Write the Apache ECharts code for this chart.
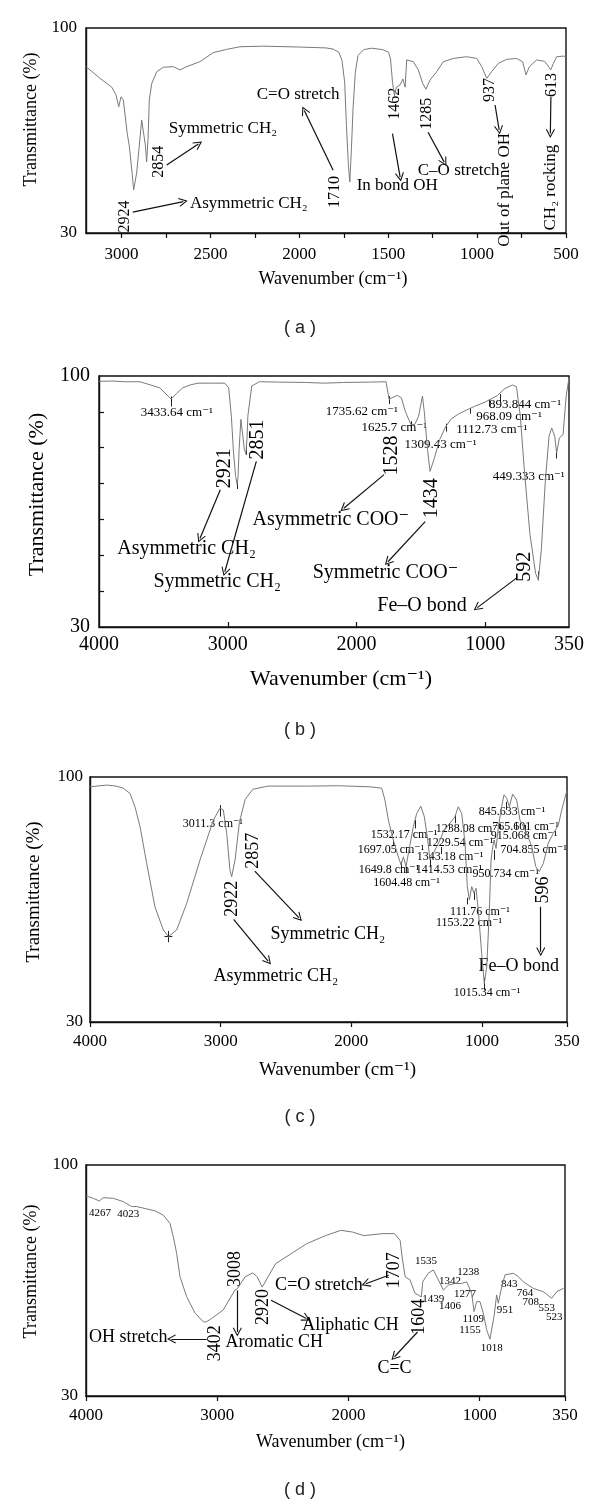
<!DOCTYPE html>
<html>
<head>
<meta charset="utf-8">
<script src="https://cdn.jsdelivr.net/npm/echarts@6/dist/echarts.min.js"></script>
<style>
html,body{margin:0;padding:0;background:#fff;}
#c{width:600px;height:1508px;}
</style>
</head>
<body>
<div id="c"></div>
<script>
// ---------- Panel (a) ----------
const aWave = [3200,3121,3055,3031,3016,3003,2990,2968,2956,2940,2932,2915,2900,2887,2878,2866,2859,2851,2844,2830,2802,2765,2709,2671,2634,2559,2484,2409,2334,2200,2000,1850,1810,1778,1760,1745,1735,1724,1716,1707,1698,1685,1670,1638,1595,1530,1498,1487,1476,1465,1454,1433,1418,1405,1396,1359,1331,1306,1288,1265,1227,1190,1134,1059,1002,974,946,918,881,834,778,744,725,706,665,620,600,586,571,552,515,500];
const aTrans = [86.8,82.8,79.8,77.1,73.1,76.5,75.4,64,59.5,50,44.7,50.5,60,68.6,68,60,54.3,62,75.4,81.1,85.1,86.6,86.8,85.7,86.8,88.5,91.6,92.7,93.6,93.8,93.5,93.2,92.8,91.7,88.9,81.5,66.7,53.1,47.4,58.8,72.4,84.9,90.6,92.6,93.1,92.6,91.7,89.4,81.5,76.9,79.8,80.6,82.6,79.8,89.1,88.5,85.7,81.1,79.1,82.2,85.1,88.5,89.6,90.2,89.6,86.8,82.8,85.1,87.9,89.3,89.6,88.5,84,86.8,89.1,88.6,87,85.7,87.9,90.2,90.4,90.2];
const aXTicks = [500,750,1000,1250,1500,1750,2000,2250,2500,2750,3000];
const aXLabels = [500,1000,1500,2000,2500,3000];
const aNotes = [
  [2981,35.6,'2924','v'],
  [2284,40,'Asymmetric CH₂','h'],
  [2788,54.3,'2854','v'],
  [2430,65.6,'Symmetric CH₂','h'],
  [2007,77.2,'C=O stretch','h'],
  [1799,44,'1710','v'],
  [1449,46.2,'In bond OH','h'],
  [1465,74.1,'1462','v'],
  [1282,70.7,'1285','v'],
  [1104,51.4,'C–O stretch','h'],
  [927,78.8,'937','v'],
  [843,44.7,'Out of plane OH','vw'],
  [580,80.5,'613','v'],
  [588,45.5,'CH₂ rocking','vw']
];
const aArrows = [
  [2937,37.1,2653,40.7],
  [2746,53.2,2568,60.4],
  [1810,51.4,1972,71.8],
  [1476,63.9,1433,49.1],
  [1276,64.4,1185,54.2],
  [899,73.7,876,65.2],
  [585,76.5,588,64]
];

// ---------- Panel (b) ----------
const bWave = [4000,3900,3800,3682,3600,3529,3480,3440,3400,3350,3293,3231,3100,3023,2993,2972,2957,2939,2927,2920,2912,2898,2883,2871,2859,2850,2844,2814,2755,2600,2397,2248,2100,1900,1771,1756,1747,1727,1682,1652,1622,1578,1548,1518,1488,1473,1449,1429,1399,1354,1309,1265,1205,1146,1086,997,908,848,789,758,728,699,654,609,588,565,535,505,484,461,446,425,396,372,350];
const bTrans = [98.5,98.6,98.4,98.4,97.5,96.7,95,93.6,95,96.7,97.5,98,98,98,96.7,88.8,79.5,72,69.7,72,79.5,87.9,88.3,79.5,78.2,83,88.8,97.2,98.4,98.3,98.2,98,98.2,98.3,98.4,98,93.5,93.9,94.6,93.9,90.2,86.5,86.5,88.8,94.4,89.7,79.5,73.4,76.7,82.3,85.8,88,89.5,90.5,91.5,92.8,94.5,96.5,97.5,97,88.8,74.8,56.1,44.9,43.1,51.5,70.1,83.2,85.5,83.2,78.5,82.7,83.7,94.4,99.5];
const bXLabels = [4000,3000,2000,1000,350];
const bXTicks = [3000,2000,1000];
const bYTicks = [40,50,60,70,80,90];
const bNotes = [
  [3395,89.7,'3433.64 cm⁻¹','s'],
  [3023,74.3,'2921','v'],
  [3320,51.7,'Asymmetric CH₂','h'],
  [2770,82.3,'2851','v'],
  [3082,42.6,'Symmetric CH₂','h'],
  [1958,90.2,'1735.62 cm⁻¹','s'],
  [1706,85.5,'1625.7 cm⁻¹','s'],
  [1727,77.8,'1528','v'],
  [2200,59.9,'Asymmetric COO⁻','h'],
  [1347,80.8,'1309.43 cm⁻¹','s'],
  [1416,65.9,'1434','v'],
  [1775,45.1,'Symmetric COO⁻','h'],
  [950,85,'1112.73 cm⁻¹','s'],
  [816,88.8,'968.09 cm⁻¹','s'],
  [692,91.9,'893.844 cm⁻¹','s'],
  [663,71.9,'449.333 cm⁻¹','s'],
  [692,46.8,'592','v'],
  [1491,35.8,'Fe–O bond','h']
];
const bArrows = [
  [3058,68.3,3216,54.7],
  [2778,76.2,3023,45.4],
  [1786,72.5,2099,63.1],
  [1467,59.4,1756,48.2],
  [756,43.7,1062,35.4]
];
const bMarks = [
  [3440,94.3,91.5],[2927,71,68.5],[2859,80.9,78],[1747,94.4,92.2],[1578,87.4,85],
  [1300,86.7,84.5],[1114,91,89.5],[969,93.5,91.5],[886,95,93],[446,79.4,77],[588,45.5,43]
];

// ---------- Panel (c) ----------
const cWave = [4000,3872,3800,3745,3694,3656,3617,3566,3503,3439,3400,3337,3260,3158,3056,3005,2980,2954,2929,2916,2890,2857,2813,2754,2637,2343,2100,1857,1768,1743,1717,1679,1641,1620,1602,1582,1559,1526,1500,1469,1442,1419,1398,1373,1347,1322,1296,1245,1207,1182,1156,1130,1113,1097,1079,1062,1046,1029,1003,983,964,944,931,918,908,893,875,850,832,811,791,766,735,710,684,658,620,589,562,531,493,455,416,390,357,350];
const cTrans = [97.2,97.7,97.4,96.8,95.3,91.5,85.8,75.3,62.9,56.3,54.4,56.3,63.9,76.3,87.7,91.1,90.6,83.9,73.4,71.5,76.3,87,93.6,96.5,97.4,97.4,97.5,97.2,96.8,93.4,87.7,82,77.2,74.9,77.2,74.4,79.1,85.8,89.6,91.7,88.7,82.9,76.3,78.2,80.1,82,84.4,86.8,88.7,91.5,89.6,81.1,68.7,64.9,68.7,66.8,68.2,62,49.6,41,45.8,62,76.3,80.1,82,79.6,85.8,91.5,94.9,93.9,91.5,95.1,93.4,87.7,85.8,83.9,80.1,74.4,73,75.3,81.1,83.9,86.3,90.6,95.3,96];
const cXLabels = [4000,3000,2000,1000,350];
const cNotes = [
  [3060,86.6,'3011.3 cm⁻¹','s'],
  [2910,65.2,'2922','v'],
  [2578,43.1,'Asymmetric CH₂','h'],
  [2754,78.9,'2857','v'],
  [2179,55.2,'Symmetric CH₂','h'],
  [720,45.8,'Fe–O bond','h'],
  [531,67.7,'596','v'],
  [771,90.1,'845.633 cm⁻¹','s'],
  [668,85.8,'765.601 cm⁻¹','s'],
  [1100,85.3,'1238.08 cm⁻¹','s'],
  [679,83.1,'915.068 cm⁻¹','s'],
  [1597,83.4,'1532.17 cm⁻¹','s'],
  [1169,81.2,'1229.54 cm⁻¹','s'],
  [1697,79.1,'1697.05 cm⁻¹','s'],
  [605,79.3,'704.855 cm⁻¹','s'],
  [1245,77.2,'1343.18 cm⁻¹','s'],
  [1712,73.6,'1649.8 cm⁻¹','s'],
  [1253,73.6,'1414.53 cm⁻¹','s'],
  [819,72.2,'950.734 cm⁻¹','s'],
  [1577,69.8,'1604.48 cm⁻¹','s'],
  [1016,61.5,'111.76 cm⁻¹','s'],
  [1100,58.2,'1153.22 cm⁻¹','s'],
  [962,38.2,'1015.34 cm⁻¹','s']
];
const cArrows = [
  [2901,59.3,2637,47.4],
  [2739,73.1,2402,59.8],
  [551,62.9,551,50.1]
];
const cMarks = [
  [3400,56,52.8],[3005,92,88.7],[1679,82,80.6],[1620,75.8,74.2],[1582,74.4,72.5],[1513,87.7,85.3],
  [1398,76.8,74.4],[1316,80,78],[1207,89.1,86.8],[1253,86.8,84.9],[1113,65.5,63.6],[1062,67.2,64.9],
  [983,42.6,39.1],[908,79.1,76.3],[817,92.9,90.6],[735,87.2,84.9],[671,86.3,84.4]
];
const cCross = [[3430,54.4,3370,54.4]];

// ---------- Panel (d) ----------
const dWave = [4000,3982,3944,3898,3868,3792,3716,3652,3614,3537,3474,3411,3360,3335,3309,3284,3233,3169,3106,3086,3042,2954,2865,2847,2788,2730,2695,2657,2648,2613,2555,2438,2321,2175,2058,1971,1883,1737,1649,1606,1591,1568,1531,1493,1468,1445,1434,1392,1353,1315,1277,1239,1188,1137,1099,1061,1043,1023,998,973,947,922,891,871,858,832,807,744,706,668,591,515,451,413,363,350];
const dTrans = [90.6,90.4,89.9,89.1,90.1,89.9,88.9,87.4,87.4,86.7,86.1,84.8,82.3,78.3,73.2,66.2,60.1,55.1,52.5,52.4,53.5,56.1,62.1,62.5,66.1,67.3,66.1,63,62.5,66.1,70.1,73.1,76.1,78.6,80.2,79.7,78.6,79.2,79.2,77.1,72.1,66.1,65.2,61.1,60.6,60,64.6,67.2,68.2,65.2,62.1,63.6,64.1,64.1,64.6,61.1,55.6,58.6,58.6,55.1,50.1,47.2,54.1,60.6,58.1,63.1,66.7,67.2,66.2,64.6,62.6,61.6,59.6,61.6,62.6,62.5];
const dXLabels = [4000,3000,2000,1000,350];
const dNotes = [
  [3893,85.5,'4267','s'],
  [3679,85.2,'4023','s'],
  [2865,68.5,'3008','v'],
  [3678,47.7,'OH stretch','h'],
  [3017,46,'3402','v'],
  [2566,46.4,'Aromatic CH','h'],
  [2648,57,'2920','v'],
  [1985,51.5,'Aliphatic CH','h'],
  [2225,63.7,'C=O stretch','h'],
  [1649,68.1,'1707','v'],
  [1460,54,'1604','v'],
  [1649,38.4,'C=C','h'],
  [1409,70.9,'1535','s'],[1087,67.4,'1238','s'],[1226,64.9,'1342','s'],[1353,59.3,'1439','s'],
  [1112,60.8,'1277','s'],[1226,57.1,'1406','s'],[774,63.8,'843','s'],[655,61.1,'764','s'],
  [611,58.5,'708','s'],[489,56.6,'553','s'],[431,53.8,'523','s'],[807,55.9,'951','s'],
  [1049,53.2,'1109','s'],[1074,50,'1155','s'],[909,44.6,'1018','s']
];
const dArrows = [
  [2847,62,2847,49.4],
  [3080,47.3,3349,47.3],
  [2590,59,2321,53.5],
  [1693,66.6,1868,64],
  [1474,49.4,1649,41.9]
];

const yLabels = [30,100];
const captions = ['( a )','( b )','( c )','( d )'];
const xName = 'Wavenumber (cm⁻¹)';
const yName = 'Transmittance (%)';

// ---------- layout / style ----------
const SERIF = '"Liberation Serif","DejaVu Serif",serif';
const panels = [
  {grid:{left:86,top:28,width:480,height:205}, min:500, max:3200, wave:aWave, trans:aTrans, notes:aNotes, arrows:aArrows, marks:[],
   xLabels:aXLabels, xTicks:aXTicks, xTickIn:false, yTicks:[], fs:{tick:17,xname:18,yname:18,v:16,vw:17,h:17,s:12},
   xNameGap:37, yNameGap:46, xNamePad:[0,0,0,14], yNamePad:[0,0,0,22], xLabelMargin:13, yLabelMargin:9, cap:328},
  {grid:{left:99,top:376,width:470,height:251}, min:350, max:4000, wave:bWave, trans:bTrans, notes:bNotes, arrows:bArrows, marks:bMarks,
   xLabels:bXLabels, xTicks:bXTicks, xTickIn:true, yTicks:bYTicks, fs:{tick:20,xname:22,yname:22,v:20,vw:20,h:20,s:13},
   xNameGap:41, yNameGap:51, xNamePad:[0,0,0,14], yNamePad:[0,0,0,14], xLabelMargin:8, yLabelMargin:9, cap:730},
  {grid:{left:90,top:777,width:477,height:245}, min:350, max:4000, wave:cWave, trans:cTrans, notes:cNotes, arrows:cArrows, marks:cMarks,
   xLabels:cXLabels, xTicks:cXLabels, xTickIn:false, yTicks:[], fs:{tick:17,xname:19,yname:19,v:18,vw:18,h:18,s:12},
   xNameGap:39, yNameGap:46, xNamePad:[0,0,0,18], yNamePad:[0,0,0,15], xLabelMargin:11, yLabelMargin:7, cap:1117},
  {grid:{left:86,top:1165,width:479,height:231}, min:350, max:4000, wave:dWave, trans:dTrans, notes:dNotes, arrows:dArrows, marks:[],
   xLabels:dXLabels, xTicks:dXLabels, xTickIn:false, yTicks:[], fs:{tick:17,xname:18,yname:18,v:18,vw:18,h:18,s:11},
   xNameGap:37, yNameGap:46, xNamePad:[0,0,0,10], yNamePad:[0,0,0,18], xLabelMargin:11, yLabelMargin:8, cap:1490}
];
const ARROW = 'path://M10,0 L20,15 L18,16 L10,4 L2,16 L0,15 Z';
const plain = v => String(v);

const grids=[], xAxes=[], yAxes=[], series=[], graphics=[];
panels.forEach((p,i)=>{
  grids.push(Object.assign({show:true, borderColor:'#111', borderWidth:1.4, backgroundColor:'transparent'}, p.grid));
  xAxes.push({type:'value', gridIndex:i, inverse:true, min:p.min, max:p.max,
    name:xName, nameLocation:'middle', nameGap:p.xNameGap,
    nameTextStyle:{fontFamily:SERIF, fontSize:p.fs.xname, color:'#000', padding:p.xNamePad},
    axisLine:{show:true, lineStyle:{color:'#111', width:1.4}},
    axisTick:{show:true, customValues:p.xTicks, inside:p.xTickIn, length:5, lineStyle:{color:'#111', width:1.2}},
    axisLabel:{show:true, customValues:p.xLabels, formatter:plain, margin:p.xLabelMargin, fontFamily:SERIF, fontSize:p.fs.tick, color:'#000'},
    splitLine:{show:false}});
  yAxes.push({type:'value', gridIndex:i, min:30, max:100,
    name:yName, nameLocation:'middle', nameGap:p.yNameGap, nameRotate:90,
    nameTextStyle:{fontFamily:SERIF, fontSize:p.fs.yname, color:'#000', padding:p.yNamePad},
    axisLine:{show:true, lineStyle:{color:'#111', width:1.4}},
    axisTick:{show:p.yTicks.length>0, customValues:p.yTicks, inside:true, length:5, lineStyle:{color:'#111', width:1.2}},
    axisLabel:{show:true, customValues:yLabels, formatter:plain, margin:p.yLabelMargin, fontFamily:SERIF, fontSize:p.fs.tick, color:'#000'},
    splitLine:{show:false}});
  series.push({type:'line', xAxisIndex:i, yAxisIndex:i, data:p.wave.map((w,k)=>[w,p.trans[k]]),
    showSymbol:false, symbol:'none', silent:true, animation:false,
    lineStyle:{color:'#7a7a7a', width:1}});
  series.push({type:'lines', coordinateSystem:'cartesian2d', xAxisIndex:i, yAxisIndex:i, silent:true, animation:false,
    symbol:['none', ARROW], symbolSize:[8,9],
    lineStyle:{color:'#111', width:1.2, opacity:1},
    data:p.arrows.map(a=>({coords:[[a[0],a[1]],[a[2],a[3]]]}))});
  const markLines = p.marks.map(m=>({coords:[[m[0],m[1]],[m[0],m[2]]]}));
  if(i===2) cCross.forEach(c=>markLines.push({coords:[[c[0],c[1]],[c[2],c[3]]]}));
  if(markLines.length){
    series.push({type:'lines', coordinateSystem:'cartesian2d', xAxisIndex:i, yAxisIndex:i, silent:true, animation:false,
      symbol:['none','none'], lineStyle:{color:'#222', width:1, opacity:1}, data:markLines});
  }
  series.push({type:'scatter', xAxisIndex:i, yAxisIndex:i, silent:true, animation:false, symbolSize:1, clip:false,
    itemStyle:{color:'#fff', opacity:0},
    label:{show:true, position:'inside', color:'#000', opacity:1, textBorderWidth:0, fontFamily:SERIF},
    data:p.notes.map(n=>({value:[n[0],n[1]], label:{formatter:n[2], rotate:(n[3]==='v'||n[3]==='vw')?90:0, fontSize:p.fs[n[3]]}}))});
  graphics.push({type:'text', x:300, y:p.cap, style:{text:captions[i], font:'18px "Liberation Sans", Arial, sans-serif', fill:'#222', align:'center', verticalAlign:'middle', textAlign:'center', textVerticalAlign:'middle'}});
});

const chart = echarts.init(document.getElementById('c'), null, {renderer:'canvas', width:600, height:1508});
chart.setOption({backgroundColor:'#fff', animation:false, grid:grids, xAxis:xAxes, yAxis:yAxes, series:series, graphic:graphics});
</script>
</body>
</html>
